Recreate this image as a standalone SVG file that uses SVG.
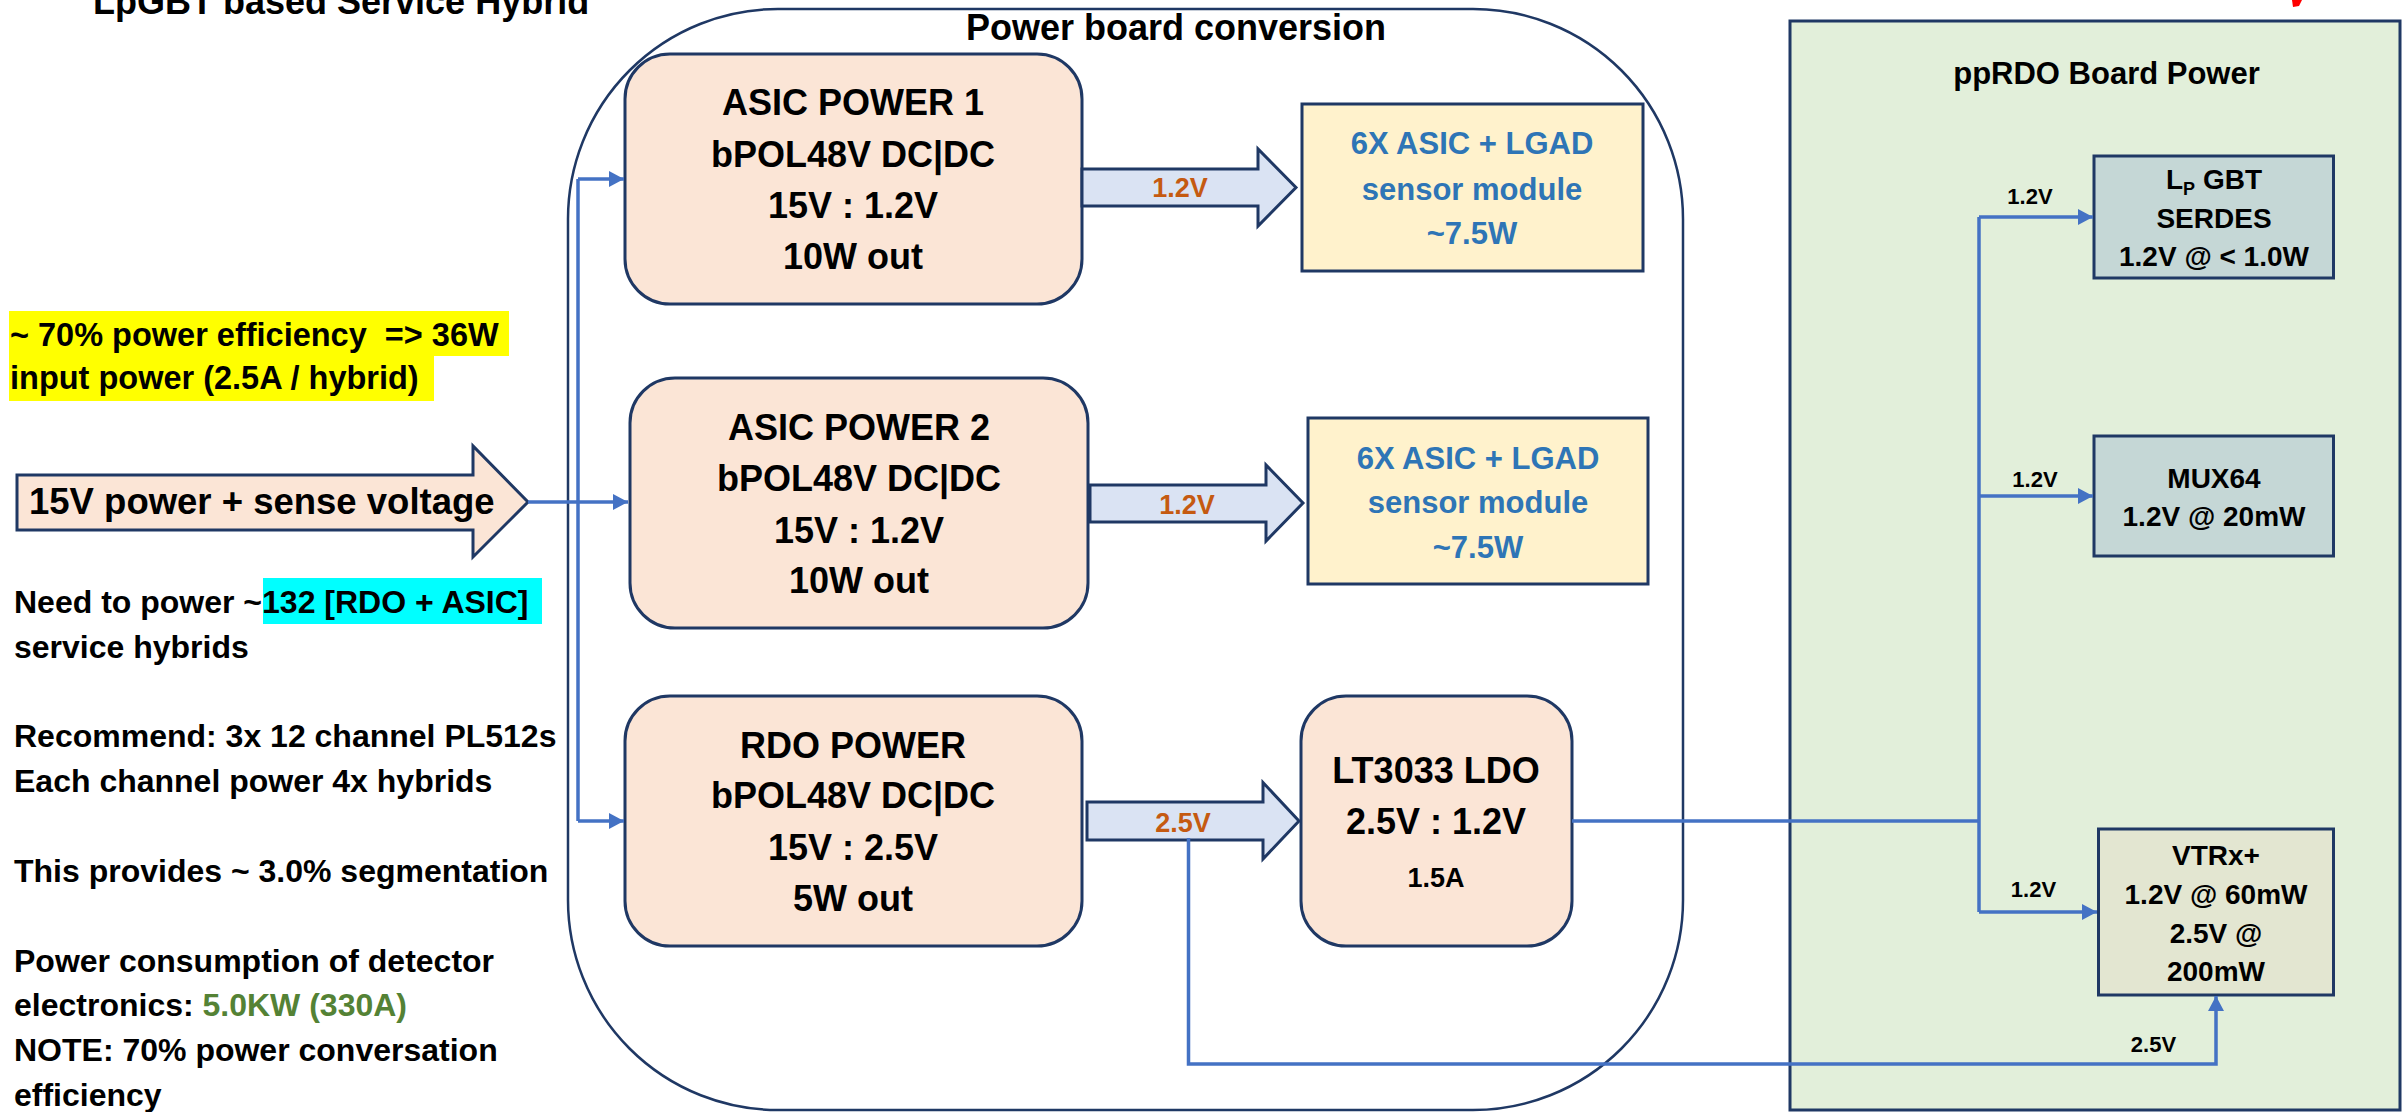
<svg xmlns="http://www.w3.org/2000/svg" width="2402" height="1112" viewBox="0 0 2402 1112">
<style>
text{font-family:"Liberation Sans",Arial,sans-serif;font-weight:bold;fill:#000;}
.c{text-anchor:middle;}
.box{fill:#FBE5D6;stroke:#1F3864;stroke-width:3;}
.ybox{fill:#FFF2CC;stroke:#1F3864;stroke-width:3;}
.barrow{fill:#DAE3F3;stroke:#1F3864;stroke-width:3;stroke-linejoin:miter;}
.conn{fill:none;stroke:#4472C4;stroke-width:3.5;}
.t36{font-size:36px;}
.t31{font-size:31px;}
.t28{font-size:28px;}
.t22{font-size:22px;}
.side{font-size:32px;}
.blue{fill:#2E75B6;}
.orange{fill:#C55A11;font-size:27px;}
</style>
<defs>
<marker id="ah" markerUnits="userSpaceOnUse" markerWidth="15" markerHeight="16" refX="15" refY="8" orient="auto">
<path d="M0,0 L15,8 L0,16 z" fill="#4472C4"/>
</marker>
</defs>
<rect width="2402" height="1112" fill="#fff"/>

<g id="title">
<text x="93" y="14" font-size="36">LpGBT based Service Hybrid</text>
</g>
<polygon id="redmark" points="2292,0 2302,0 2299,6 2293,7" fill="#FF0000"/>

<g id="notes">
<rect x="9" y="311" width="500" height="45" fill="#FFFF00"/>
<rect x="9" y="356" width="425" height="45" fill="#FFFF00"/>
<text x="10" y="346" font-size="32.5" style="white-space:pre">~ 70% power efficiency  =&gt; 36W</text>
<text x="10" y="389" font-size="32.5">input power (2.5A / hybrid)</text>
<rect x="263" y="578" width="279" height="46" fill="#00FFFF"/>
<text class="side" x="14" y="613">Need to power ~<tspan>132 [RDO + ASIC]</tspan></text>
<text class="side" x="14" y="657.5">service hybrids</text>
<text class="side" x="14" y="747">Recommend: 3x 12 channel PL512s</text>
<text class="side" x="14" y="792">Each channel power 4x hybrids</text>
<text class="side" x="14" y="882">This provides ~ 3.0% segmentation</text>
<text class="side" x="14" y="971.5">Power consumption of detector</text>
<text class="side" x="14" y="1016">electronics: <tspan fill="#548235">5.0KW (330A)</tspan></text>
<text class="side" x="14" y="1061">NOTE: 70% power conversation</text>
<text class="side" x="14" y="1105.5">efficiency</text>
</g>

<g id="input">
<polygon class="box" points="17,475 473,475 473,446 528,502 473,557 473,530 17,530"/>
<text x="29" y="514" font-size="36.5">15V power + sense voltage</text>
</g>

<g id="powerboard">
<rect x="568" y="9" width="1115" height="1101" rx="210" ry="210" fill="none" stroke="#1F3864" stroke-width="2.5"/>
<text class="c t36" x="1176" y="40">Power board conversion</text>
</g>

<g id="ppRDO">
<rect x="1790" y="21" width="610" height="1089" fill="#E2EFDA" stroke="#1F3864" stroke-width="3"/>
<text class="c t31" x="2106.5" y="84">ppRDO Board Power</text>
</g>

<g id="asic1">
<rect class="box" x="625" y="54" width="457" height="250" rx="45"/>
<text class="c t36" x="853" y="115">ASIC POWER 1</text>
<text class="c t36" x="853" y="167">bPOL48V DC|DC</text>
<text class="c t36" x="853" y="217.5">15V : 1.2V</text>
<text class="c t36" x="853" y="269">10W out</text>
</g>

<g id="asic2">
<rect class="box" x="630" y="378" width="458" height="250" rx="45"/>
<text class="c t36" x="859" y="440">ASIC POWER 2</text>
<text class="c t36" x="859" y="491">bPOL48V DC|DC</text>
<text class="c t36" x="859" y="542.5">15V : 1.2V</text>
<text class="c t36" x="859" y="593">10W out</text>
</g>

<g id="rdo">
<rect class="box" x="625" y="696" width="457" height="250" rx="45"/>
<text class="c t36" x="853" y="758">RDO POWER</text>
<text class="c t36" x="853" y="808">bPOL48V DC|DC</text>
<text class="c t36" x="853" y="860">15V : 2.5V</text>
<text class="c t36" x="853" y="911">5W out</text>
</g>

<g id="ldo">
<rect class="box" x="1301" y="696" width="271" height="250" rx="45"/>
<text class="c t36" x="1436" y="782.5">LT3033 LDO</text>
<text class="c t36" x="1436" y="834">2.5V : 1.2V</text>
<text class="c" x="1436" y="887" font-size="27">1.5A</text>
</g>

<g id="sensor1">
<rect class="ybox" x="1302" y="104" width="341" height="167"/>
<text class="c t31 blue" x="1472" y="154">6X ASIC + LGAD</text>
<text class="c t31 blue" x="1472" y="200">sensor module</text>
<text class="c t31 blue" x="1472" y="244">~7.5W</text>
</g>

<g id="sensor2">
<rect class="ybox" x="1308" y="418" width="340" height="166"/>
<text class="c t31 blue" x="1478" y="468.5">6X ASIC + LGAD</text>
<text class="c t31 blue" x="1478" y="513">sensor module</text>
<text class="c t31 blue" x="1478" y="558">~7.5W</text>
</g>

<g id="lpgbt">
<rect x="2094" y="156" width="239.5" height="122" fill="#C5D7D6" stroke="#1F3864" stroke-width="3"/>
<text class="c t28" x="2214" y="189">L<tspan font-size="18" dy="6">P</tspan><tspan dy="-6"> GBT</tspan></text>
<text class="c t28" x="2214" y="227.5">SERDES</text>
<text class="c t28" x="2214" y="266">1.2V @ &lt; 1.0W</text>
</g>

<g id="mux64">
<rect x="2094" y="436" width="239.5" height="120" fill="#C5D7D6" stroke="#1F3864" stroke-width="3"/>
<text class="c t28" x="2214" y="487.5">MUX64</text>
<text class="c t28" x="2214" y="526">1.2V @ 20mW</text>
</g>

<g id="vtrx">
<rect x="2098.5" y="829" width="235" height="166" fill="#E3E6D1" stroke="#1F3864" stroke-width="3"/>
<text class="c t28" x="2216" y="865">VTRx+</text>
<text class="c t28" x="2216" y="904">1.2V @ 60mW</text>
<text class="c t28" x="2216" y="943">2.5V @</text>
<text class="c t28" x="2216" y="981">200mW</text>
</g>

<g id="connectors">
<polygon class="barrow" points="1082,169 1258,169 1258,149 1296,187.5 1258,226 1258,206 1082,206"/>
<text class="c orange" x="1180" y="197">1.2V</text>
<polygon class="barrow" points="1090,485 1266,485 1266,465 1303,503 1266,541 1266,522 1090,522"/>
<text class="c orange" x="1187" y="514">1.2V</text>
<polygon class="barrow" points="1087,802 1263,802 1263,782.5 1299,821 1263,859 1263,840 1087,840"/>
<text class="c orange" x="1183" y="832">2.5V</text>

<path class="conn" d="M528,502 H628" marker-end="url(#ah)"/>
<path class="conn" d="M578,179 V821"/>
<path class="conn" d="M578,179 H624" marker-end="url(#ah)"/>
<path class="conn" d="M578,821 H624" marker-end="url(#ah)"/>

<path class="conn" d="M1572,821 H1979"/>
<path class="conn" d="M1979,217 V912"/>
<path class="conn" d="M1979,217 H2093" marker-end="url(#ah)"/>
<path class="conn" d="M1979,496 H2093" marker-end="url(#ah)"/>
<path class="conn" d="M1979,912 H2097" marker-end="url(#ah)"/>
<path class="conn" d="M1188.5,838 V1064 H2216 V996" marker-end="url(#ah)"/>

<text class="c t22" x="2030" y="203.5">1.2V</text>
<text class="c t22" x="2035" y="486.5">1.2V</text>
<text class="c t22" x="2033.5" y="897">1.2V</text>
<text class="c t22" x="2153.5" y="1052">2.5V</text>
</g>
</svg>
